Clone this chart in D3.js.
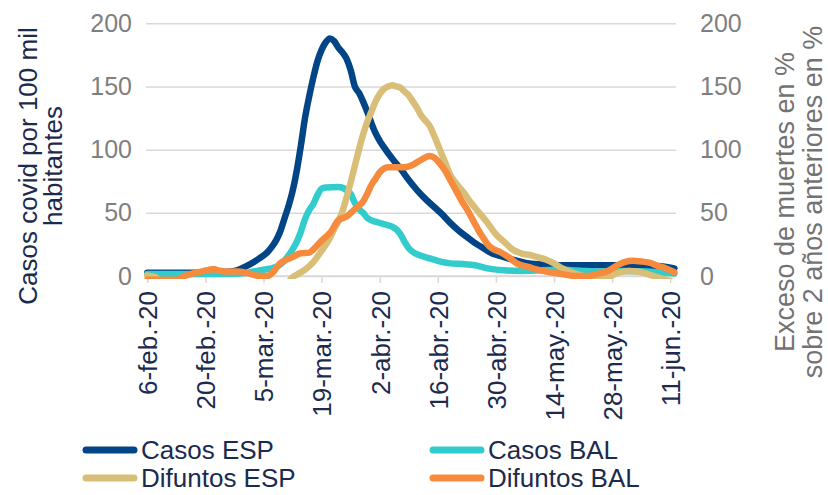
<!DOCTYPE html>
<html><head><meta charset="utf-8">
<script src="https://cdn.jsdelivr.net/npm/d3@7"></script>
<style>
html,body{margin:0;padding:0;background:#fff;}
svg{display:block;font-family:"Liberation Sans",Arial,sans-serif;}
</style></head>
<body>
<svg id="c" width="828" height="495"></svg>
<script>
// ---- data ----
const tickDates = ["2020-02-06","2020-02-20","2020-03-05","2020-03-19","2020-04-02","2020-04-16","2020-04-30","2020-05-14","2020-05-28","2020-06-11"];
const tickLabels = ["6-feb.-20","20-feb.-20","5-mar.-20","19-mar.-20","2-abr.-20","16-abr.-20","30-abr.-20","14-may.-20","28-may.-20","11-jun.-20"];
const yTicks = [0,50,100,150,200];

const casosESP = [["2020-02-06",2.5],["2020-02-16",2.5],["2020-02-24",3],["2020-02-27",4],["2020-03-01",8],["2020-03-04",14],["2020-03-06",19],["2020-03-07",23],["2020-03-08",28],["2020-03-09",35],["2020-03-10",45],["2020-03-11",55],["2020-03-12",67],["2020-03-13",83],["2020-03-14",103],["2020-03-15",125],["2020-03-16",142],["2020-03-17",157],["2020-03-18",170],["2020-03-19",179],["2020-03-20",185],["2020-03-21",188],["2020-03-22",186],["2020-03-23",181],["2020-03-24",177],["2020-03-25",172],["2020-03-26",163],["2020-03-27",150],["2020-03-28",145],["2020-03-29",138],["2020-03-30",130],["2020-03-31",121],["2020-04-01",113],["2020-04-02",107],["2020-04-03",102],["2020-04-05",93],["2020-04-07",85],["2020-04-09",76],["2020-04-11",68],["2020-04-13",61],["2020-04-15",55],["2020-04-17",49],["2020-04-19",42],["2020-04-21",36],["2020-04-23",31],["2020-04-25",26],["2020-04-27",22],["2020-04-29",18],["2020-05-01",16],["2020-05-04",13],["2020-05-08",10],["2020-05-12",9],["2020-05-16",8.5],["2020-06-01",8.5],["2020-06-08",8],["2020-06-12",6]];

const casosBAL = [["2020-02-06",1.5],["2020-02-26",1.5],["2020-03-01",2.5],["2020-03-04",4.5],["2020-03-08",7],["2020-03-09",9],["2020-03-10",12],["2020-03-11",16],["2020-03-12",21],["2020-03-13",27],["2020-03-14",35],["2020-03-15",45],["2020-03-16",52],["2020-03-17",57],["2020-03-18",64],["2020-03-19",69],["2020-03-20",70],["2020-03-23",70.5],["2020-03-24",70],["2020-03-25",68],["2020-03-26",65],["2020-03-27",58],["2020-03-28",53],["2020-03-29",50],["2020-03-30",46],["2020-03-31",44],["2020-04-01",43],["2020-04-03",41],["2020-04-05",39],["2020-04-06",37],["2020-04-07",33],["2020-04-08",27],["2020-04-09",22],["2020-04-10",19],["2020-04-12",16],["2020-04-14",14],["2020-04-16",12],["2020-04-19",10],["2020-04-22",9.5],["2020-04-25",8.5],["2020-04-28",6],["2020-05-02",4.5],["2020-05-06",4],["2020-05-11",4.5],["2020-05-16",5],["2020-05-21",4],["2020-05-26",3.5],["2020-05-31",4],["2020-06-05",3.5],["2020-06-10",2.5],["2020-06-12",2]];

const difuntosESP = [["2020-02-06",0.5],["2020-02-08",-1],["2020-02-11",-8],["2020-03-10",-8],["2020-03-12",-1],["2020-03-13",1],["2020-03-15",5],["2020-03-17",11],["2020-03-19",20],["2020-03-21",30],["2020-03-22",37],["2020-03-23",43],["2020-03-24",51],["2020-03-25",62],["2020-03-26",74],["2020-03-27",87],["2020-03-28",100],["2020-03-29",112],["2020-03-30",122],["2020-03-31",130],["2020-04-01",138],["2020-04-02",144],["2020-04-03",148],["2020-04-04",150],["2020-04-05",151],["2020-04-06",150],["2020-04-07",149],["2020-04-08",146],["2020-04-09",143],["2020-04-10",138],["2020-04-11",133],["2020-04-12",127],["2020-04-13",123],["2020-04-14",119],["2020-04-15",112],["2020-04-16",104],["2020-04-17",96],["2020-04-18",88],["2020-04-19",80],["2020-04-20",75],["2020-04-22",67],["2020-04-24",58],["2020-04-26",50],["2020-04-28",42],["2020-04-30",33],["2020-05-02",27],["2020-05-04",21],["2020-05-06",18],["2020-05-09",16],["2020-05-12",13],["2020-05-14",10],["2020-05-16",6],["2020-05-19",2],["2020-05-21",0],["2020-05-24",-3],["2020-05-27",-1],["2020-05-29",2],["2020-06-01",4],["2020-06-04",3],["2020-06-07",0],["2020-06-10",-3],["2020-06-12",-5]];

const difuntosBAL = [["2020-02-06",-3],["2020-02-13",-3],["2020-02-15",0],["2020-02-17",2],["2020-02-19",3.5],["2020-02-21",5],["2020-02-22",5.5],["2020-02-23",4.5],["2020-02-25",3.5],["2020-02-28",3.5],["2020-03-02",1.5],["2020-03-04",0],["2020-03-06",0],["2020-03-07",2],["2020-03-08",6],["2020-03-09",10],["2020-03-10",12],["2020-03-12",15],["2020-03-14",18],["2020-03-16",18.5],["2020-03-17",21],["2020-03-19",28],["2020-03-20",31],["2020-03-21",34],["2020-03-23",44],["2020-03-25",47],["2020-03-27",53],["2020-03-29",59],["2020-03-30",65],["2020-03-31",72],["2020-04-01",77],["2020-04-02",82],["2020-04-03",85],["2020-04-04",86],["2020-04-08",86],["2020-04-10",88],["2020-04-12",92],["2020-04-14",95],["2020-04-15",94],["2020-04-16",91],["2020-04-17",87],["2020-04-18",82],["2020-04-19",76],["2020-04-20",70],["2020-04-21",64],["2020-04-22",58],["2020-04-23",53],["2020-04-24",47],["2020-04-25",41],["2020-04-26",35],["2020-04-27",30],["2020-04-28",25],["2020-04-29",22],["2020-05-01",19],["2020-05-03",15],["2020-05-05",10],["2020-05-08",7],["2020-05-10",5],["2020-05-13",3],["2020-05-16",1.5],["2020-05-19",0],["2020-05-22",0],["2020-05-25",2],["2020-05-27",4],["2020-05-29",8],["2020-05-31",11],["2020-06-02",12],["2020-06-04",11.5],["2020-06-06",10.5],["2020-06-08",8],["2020-06-10",6],["2020-06-12",3]];

const seriesNames = ["Casos ESP","Casos BAL","Difuntos ESP","Difuntos BAL"];
const seriesColors = ["#024586","#33CCCC","#D9BE78","#F68B3D"];

// ---- layout ----
const parse = d3.timeParse("%Y-%m-%d");
const pLeft = 146, pRight = 676, pTop = 23.3, pBottom = 276;
const x = d3.scaleTime().domain([parse("2020-02-06"), parse("2020-06-12")]).range([147.3, 147.3 + 127*4.15]);
const yL = d3.scaleLinear().domain([0,200]).range([pBottom, pTop]);
const yR = d3.scaleLinear().domain([0,200]).range([pBottom, pTop]);

const svg = d3.select("#c");
const gray = "#7F7F7F", navyText = "#1C2B4D", gridC = "#D9D9D9";

// left axis with gridlines
const gL = svg.append("g").attr("transform", `translate(${pLeft},0)`)
  .call(d3.axisLeft(yL).tickValues(yTicks).tickSize(-(pRight-pLeft)).tickPadding(14).tickFormat(d3.format("d")));
gL.select(".domain").remove();
gL.selectAll(".tick line").attr("stroke", gridC).attr("stroke-width", 1.5);
gL.selectAll(".tick text").attr("fill", gray).attr("font-size", 25).attr("font-family","Liberation Sans, Arial, sans-serif");

// right axis
const gR = svg.append("g").attr("transform", `translate(${pRight},0)`)
  .call(d3.axisRight(yR).tickValues(yTicks).tickSize(0).tickPadding(24).tickFormat(d3.format("d")));
gR.select(".domain").remove();
gR.selectAll(".tick text").attr("fill", gray).attr("font-size", 25).attr("font-family","Liberation Sans, Arial, sans-serif");

// bottom axis
const gB = svg.append("g").attr("transform", `translate(0,${pBottom})`)
  .call(d3.axisBottom(x).tickValues(tickDates.map(parse)).tickSize(7).tickPadding(0)
    .tickFormat((d,i) => tickLabels[i]));
gB.select(".domain").attr("d", `M${pLeft},0H${pRight}`).attr("stroke", gridC).attr("stroke-width", 1.5);
gB.selectAll(".tick line").attr("stroke", gridC).attr("stroke-width", 1.5);
gB.selectAll(".tick text")
  .attr("fill", navyText).attr("font-size", 26).attr("font-family","Liberation Sans, Arial, sans-serif")
  .attr("text-anchor", "end").attr("transform", "rotate(-90)")
  .attr("x", -15).attr("y", 0).attr("dy", "0.36em");

// clip
svg.append("clipPath").attr("id","clip").append("rect")
  .attr("x", 0).attr("y", 0).attr("width", 828).attr("height", pBottom + 3);

const line = (scale) => d3.line().x(d => x(parse(d[0]))).y(d => scale(d[1])).curve(d3.curveMonotoneX);
const dataSets = [[casosESP,yL],[casosBAL,yL],[difuntosESP,yR],[difuntosBAL,yR]];
const gLines = svg.append("g").attr("clip-path","url(#clip)");
dataSets.forEach(([data, sc], i) => {
  gLines.append("path").datum(data).attr("d", line(sc))
    .attr("fill","none").attr("stroke", seriesColors[i]).attr("stroke-width", 6.5)
    .attr("stroke-linejoin","round").attr("stroke-linecap","round");
});

// axis titles
const lt = svg.append("text").attr("transform","translate(0,166) rotate(-90)")
  .attr("text-anchor","middle").attr("fill", navyText).attr("font-size", 26);
lt.append("tspan").attr("x",0).attr("y",37).text("Casos covid por 100 mil");
lt.append("tspan").attr("x",0).attr("y",62).text("habitantes");

const rt = svg.append("text").attr("transform","translate(0,202) rotate(-90)")
  .attr("text-anchor","middle").attr("fill", "#737373").attr("font-size", 27);
rt.append("tspan").attr("x",0).attr("y",794).text("Exceso de muertes en %");
rt.append("tspan").attr("x",0).attr("y",822).text("sobre 2 años anteriores en %");

// legend
const legPos = [[83,450],[430,450],[83,478],[430,478]];
seriesNames.forEach((n,i) => {
  const [lx,ly] = legPos[i];
  svg.append("line").attr("x1",lx+3).attr("x2",lx+51).attr("y1",ly).attr("y2",ly)
    .attr("stroke", seriesColors[i]).attr("stroke-width",7).attr("stroke-linecap","round");
  svg.append("text").attr("x", lx+58).attr("y", ly).attr("dy","0.36em")
    .attr("fill", navyText).attr("font-size", 26).text(n);
});
</script>
</body></html>
